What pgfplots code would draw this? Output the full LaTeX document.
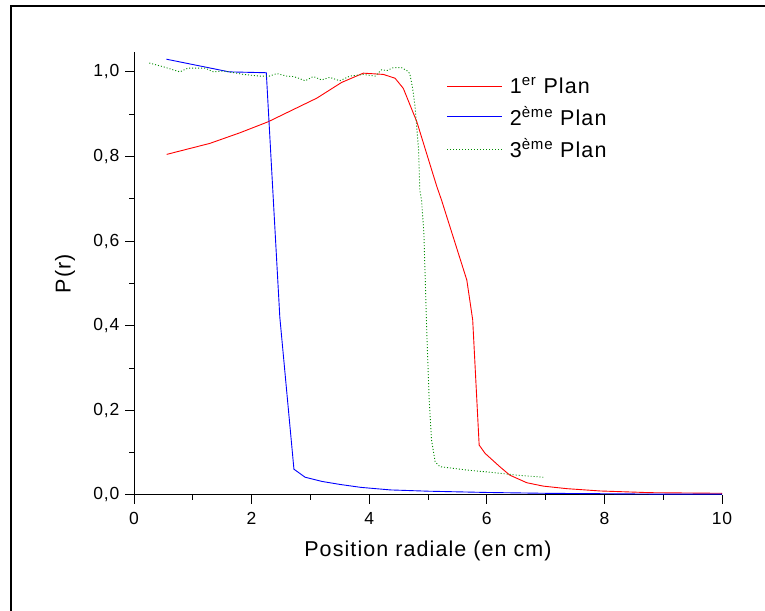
\documentclass[border=0pt]{standalone}
\usepackage{fontspec}
\setmainfont[LetterSpace=5]{Liberation Sans}
\usepackage{pgfplots}
\pgfplotsset{compat=1.18}
\definecolor{pgreen}{RGB}{0,140,0}
\begin{document}
\begin{tikzpicture}[x=1pt,y=1pt]
\useasboundingbox (0,0) rectangle (765,610);
\fill[white] (0,0) rectangle (765,610);
\draw[line width=2pt] (11,-20) -- (11,604) -- (790,604);
\begin{axis}[
  at={(134pt,115pt)}, anchor=south west,
  scale only axis, width=588pt, height=443pt,
  xmin=0, xmax=10, ymin=0, ymax=1.047,
  axis x line*=bottom, axis y line*=left,
  axis line style={-, line width=1pt},
  xtick={0,2,4,6,8,10}, ytick={0,0.2,0.4,0.6,0.8,1.0},
  minor x tick num=1, minor y tick num=1,
  tick align=outside, major tick length=9pt, minor tick length=5pt,
  every tick/.style={black, line width=1pt},
  tick label style={font=\fontsize{17.5}{20}\selectfont},
  xticklabel style={yshift=-5pt},
  yticklabel style={xshift=-2pt},
  /pgf/number format/assume math mode=true,
  /pgf/number format/use comma,
  yticklabel style={/pgf/number format/.cd, fixed, fixed zerofill, precision=1},
  xticklabel style={/pgf/number format/.cd, fixed, precision=0},
  xlabel={Position radiale (en cm)},
  ylabel={P(r)},
  label style={font=\fontsize{21.5}{25}\selectfont},
  xlabel style={at={(axis description cs:0.5,-0.1265)}, anchor=center},
  ylabel style={at={(axis description cs:-0.1173,0.5)}, anchor=center},
  legend style={draw=none, fill=none, at={(axis description cs:0.532,0.947)}, anchor=north west,
    font=\fontsize{21.5}{25}\selectfont, row sep=8pt, column sep=5pt, inner sep=0pt,
    legend cell align=left},
  legend image code/.code={\draw[#1] (0pt,0pt) -- (55pt,0pt);},
]
\addplot[red, line width=0.9pt] coordinates {
(0.556,0.805)(1.29,0.831)(1.8,0.856)(2.28,0.882)(3.11,0.938)(3.53,0.975)(3.90,0.997)(4.24,0.994)(4.44,0.985)(4.58,0.961)(4.81,0.882)(5.15,0.729)(5.23,0.697)(5.66,0.508)(5.76,0.414)(5.87,0.118)(5.97,0.0985)(6.22,0.067)(6.39,0.047)(6.68,0.029)(6.96,0.021)(7.36,0.015)(7.93,0.0095)(8.78,0.0055)(10,0.004)
};
\addlegendentry{1\textsuperscript{er} Plan}
\addplot[blue, line width=0.9pt] coordinates {
(0.55,1.03)(1.62,1.0)(2.25,0.998)(2.48,0.42)(2.72,0.061)(2.91,0.042)(3.2,0.032)(3.5,0.025)(3.86,0.018)(4.36,0.012)(5,0.009)(6,0.006)(7,0.004)(8,0.003)(9,0.002)(10,0.002)
};
\addlegendentry{2\textsuperscript{ème} Plan}
\addplot[pgreen, line width=0.9pt, dash pattern=on 1pt off 2pt] coordinates {
(0.26,1.021)(0.5,1.012)(0.78,1.0)(0.92,1.009)(1.21,1.009)(1.35,1.0)(1.52,1.002)(1.7,0.998)(1.86,0.994)(2.14,0.99)(2.3,0.99)(2.43,0.996)(2.6,0.99)(2.71,0.989)(2.8,0.985)(2.91,0.979)(3.05,0.989)(3.19,0.981)(3.33,0.987)(3.50,0.979)(3.67,0.990)(3.90,0.994)(4.10,0.990)(4.21,1.005)(4.30,1.003)(4.41,1.010)(4.55,1.01)(4.64,1.003)(4.69,0.996)(4.74,0.96)(4.78,0.918)(4.84,0.816)(4.86,0.721)(4.89,0.697)(4.93,0.619)(4.98,0.382)(5.02,0.225)(5.06,0.13)(5.12,0.079)(5.20,0.067)(5.66,0.059)(6.11,0.053)(6.51,0.047)(6.96,0.042)
};
\addlegendentry{3\textsuperscript{ème} Plan}
\end{axis}
\end{tikzpicture}
\end{document}
